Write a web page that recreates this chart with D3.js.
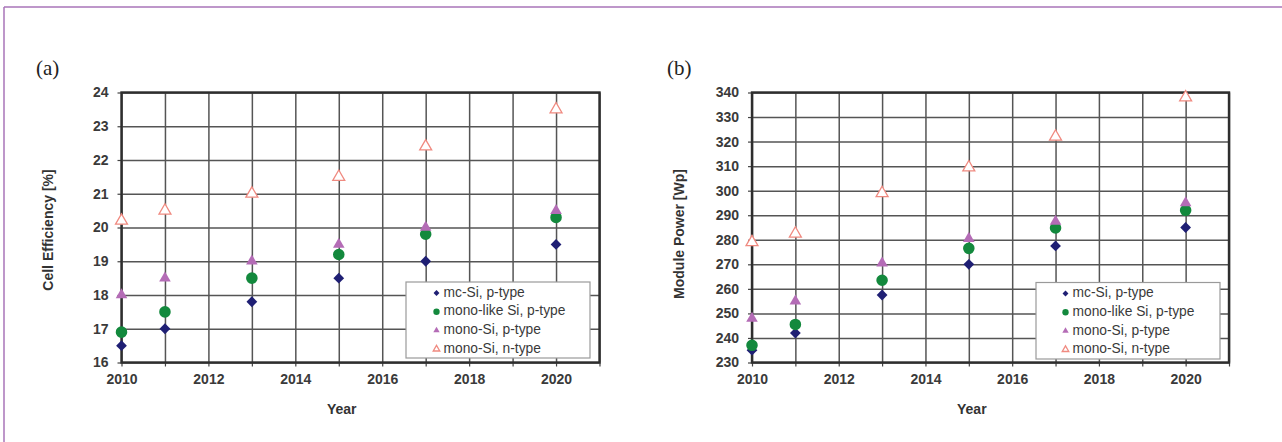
<!DOCTYPE html>
<html>
<head>
<meta charset="utf-8">
<script src="https://cdn.jsdelivr.net/npm/d3@7"></script>
<style>
  html, body { margin: 0; padding: 0; background: #ffffff; }
  svg { display: block; }
</style>
</head>
<body>
<svg id="chart" width="1282" height="442"></svg>
<script>
// ---------------- data ----------------
const years = [2010, 2011, 2013, 2015, 2017, 2020];
const seriesNames = ["mc-Si, p-type", "mono-like Si, p-type", "mono-Si, p-type", "mono-Si, n-type"];

// (a) cell efficiency [%]
const effMcSi     = [16.5, 17.0, 17.8, 18.5, 19.0, 19.5];
const effMonoLike = [16.9, 17.5, 18.5, 19.2, 19.8, 20.3];
const effMonoP    = [18.0, 18.5, 19.0, 19.5, 20.0, 20.5];
const effMonoN    = [20.2, 20.5, 21.0, 21.5, 22.4, 23.5];

// (b) module power [Wp]
const powMcSi     = [235, 242, 257.5, 270, 277.5, 285];
const powMonoLike = [237, 245.5, 263.5, 276.5, 284.8, 292];
const powMonoP    = [248, 255, 270.5, 280.5, 287.5, 295];
const powMonoN    = [279, 282.5, 299, 309.5, 322, 338];

const xTickLabels = [2010, 2012, 2014, 2016, 2018, 2020];
const xGridYears  = [2010, 2011, 2012, 2013, 2014, 2015, 2016, 2017, 2018, 2019, 2020, 2021];
const effTicks = [16, 17, 18, 19, 20, 21, 22, 23, 24];
const powTicks = [230, 240, 250, 260, 270, 280, 290, 300, 310, 320, 330, 340];

// ---------------- drawing ----------------
const svg = d3.select("#chart");

// purple frame (top + left)
svg.append("line").attr("x1", 4).attr("x2", 1282).attr("y1", 7).attr("y2", 7)
  .attr("stroke", "#a874b8").attr("stroke-width", 1.5);
svg.append("line").attr("x1", 4).attr("x2", 4).attr("y1", 7).attr("y2", 442)
  .attr("stroke", "#a874b8").attr("stroke-width", 1.5);

const styles = [
  { type: "diamond",  fill: "#1f1f74", stroke: "none" },
  { type: "circle",   fill: "#13893d", stroke: "none" },
  { type: "triangle", fill: "#b46cb6", stroke: "none" },
  { type: "otriangle",fill: "#ffffff", stroke: "#f08a80" }
];

function symbolPath(type, big) {
  const k = big ? 1 : 0.55;
  if (type === "diamond") return d3.symbol(d3.symbolSquare, 58 * k * k)();
  if (type === "circle") return d3.symbol(d3.symbolCircle, 105 * k * k)();
  return d3.symbol(d3.symbolTriangle, (type === "otriangle" ? 62 : 58) * k * k)();
}

function drawMarker(g, st, x, y, big) {
  const p = g.append("path")
    .attr("d", symbolPath(st.type, big))
    .attr("transform", `translate(${x},${y})` + (st.type === "diamond" ? " rotate(45)" : ""))
    .attr("fill", st.fill)
    .attr("stroke", st.stroke);
  if (st.type === "otriangle") p.attr("stroke-width", 1.3);
}

function panel(opts) {
  const { left, right, top, bottom, yDomain, yTicks, seriesData, yTitle, yTitleX, yTitleY,
          label, labelX, legend } = opts;
  const g = svg.append("g");
  const x = d3.scaleLinear().domain([2010, 2021]).range([left, right]);
  const y = d3.scaleLinear().domain(yDomain).range([bottom, top]);
  const w = right - left, h = bottom - top;

  // panel label
  g.append("text").attr("x", labelX).attr("y", 75)
    .attr("font-family", "Liberation Serif, DejaVu Serif, serif")
    .attr("font-size", 21).attr("fill", "#222").text(label);

  // white plot area
  g.append("rect").attr("x", left).attr("y", top).attr("width", w).attr("height", h)
    .attr("fill", "#fff");

  // vertical grid
  g.append("g").attr("transform", `translate(0,${bottom})`)
    .call(d3.axisBottom(x).tickValues(xGridYears).tickSize(-h).tickFormat(""))
    .call(s => s.select(".domain").remove())
    .call(s => s.selectAll("line").attr("stroke", "#555").attr("stroke-width", 1.5));

  // horizontal grid
  g.append("g").attr("transform", `translate(${left},0)`)
    .call(d3.axisLeft(y).tickValues(yTicks).tickSize(-w).tickFormat(""))
    .call(s => s.select(".domain").remove())
    .call(s => s.selectAll("line").attr("stroke", "#555").attr("stroke-width", 1.5));

  // x axis labels + small ticks
  const xa = g.append("g").attr("transform", `translate(0,${bottom})`)
    .call(d3.axisBottom(x).tickValues(xGridYears).tickSize(4)
      .tickFormat(d => xTickLabels.includes(d) ? String(d) : ""));
  xa.select(".domain").remove();
  xa.selectAll("line").attr("stroke", "#444").attr("stroke-width", 1.2);
  xa.selectAll("text").attr("font-family", "Liberation Sans, Arial, sans-serif")
    .attr("font-weight", "bold").attr("font-size", 14).attr("fill", "#3a3a3a")
    .attr("dy", "1.05em");

  // y axis labels + small ticks
  const ya = g.append("g").attr("transform", `translate(${left},0)`)
    .call(d3.axisLeft(y).tickValues(yTicks).tickSize(4).tickPadding(9));
  ya.select(".domain").remove();
  ya.selectAll("line").attr("stroke", "#444").attr("stroke-width", 1.2);
  ya.selectAll("text").attr("font-family", "Liberation Sans, Arial, sans-serif")
    .attr("font-weight", "bold").attr("font-size", 14).attr("fill", "#3a3a3a");

  // frame
  g.append("rect").attr("x", left).attr("y", top).attr("width", w).attr("height", h)
    .attr("fill", "none").attr("stroke", "#2e2e2e").attr("stroke-width", 2.4);

  // axis titles
  g.append("text").attr("transform", `translate(${yTitleX},${yTitleY}) rotate(-90)`)
    .attr("text-anchor", "middle").attr("dominant-baseline", "middle")
    .attr("font-family", "Liberation Sans, Arial, sans-serif").attr("font-weight", "bold")
    .attr("font-size", 14).attr("fill", "#333").text(yTitle);
  g.append("text").attr("x", (x(2010) + x(2020)) / 2 + 3).attr("y", 414)
    .attr("text-anchor", "middle")
    .attr("font-family", "Liberation Sans, Arial, sans-serif").attr("font-weight", "bold")
    .attr("font-size", 14).attr("fill", "#333").text("Year");

  // data markers (draw in series order)
  seriesData.forEach((vals, si) => {
    vals.forEach((v, i) => drawMarker(g, styles[si], x(years[i]), y(v), true));
  });

  // legend
  const L = legend;
  g.append("rect").attr("x", L.x).attr("y", L.y).attr("width", L.w).attr("height", L.h)
    .attr("fill", "#fff").attr("stroke", "#9a9a9a").attr("stroke-width", 1.2);
  seriesNames.forEach((name, si) => {
    const cy = L.y + 11 + si * 18.7;
    drawMarker(g, styles[si], L.mx, cy, false);
    g.append("text").attr("x", L.mx + 7).attr("y", cy).attr("dominant-baseline", "middle")
      .attr("font-family", "Liberation Sans, Arial, sans-serif")
      .attr("font-size", 13.8).attr("fill", "#3a3a3a").text(name);
  });
}

panel({
  left: 121.5, right: 599.5, top: 92.5, bottom: 362.5,
  yDomain: [16, 24], yTicks: effTicks,
  seriesData: [effMcSi, effMonoLike, effMonoP, effMonoN],
  yTitle: "Cell Efficiency [%]", yTitleX: 49, yTitleY: 230,
  label: "(a)", labelX: 36,
  legend: { x: 406, y: 282, w: 184, h: 76, mx: 436.5 }
});

panel({
  left: 752, right: 1229, top: 92.5, bottom: 362.5,
  yDomain: [230, 340], yTicks: powTicks,
  seriesData: [powMcSi, powMonoLike, powMonoP, powMonoN],
  yTitle: "Module Power [Wp]", yTitleX: 680, yTitleY: 234,
  label: "(b)", labelX: 667,
  legend: { x: 1036, y: 282.5, w: 184, h: 76.5, mx: 1065.5 }
});
</script>
</body>
</html>
